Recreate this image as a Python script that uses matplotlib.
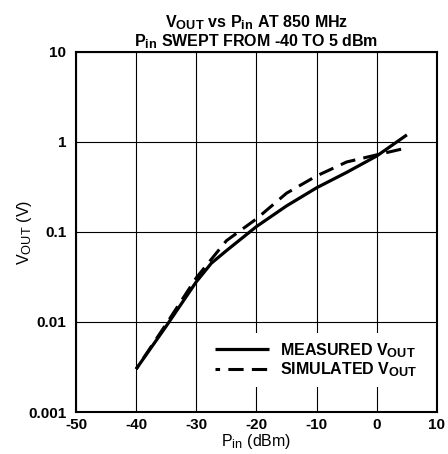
import numpy as np
import matplotlib
matplotlib.use("Agg")
import matplotlib.pyplot as plt
import matplotlib._mathtext as mt

plt.rcParams['font.family'] = ['Liberation Sans', 'DejaVu Sans']
plt.rcParams['font.weight'] = 'bold'
plt.rcParams['mathtext.default'] = 'regular'
mt.SHRINK_FACTOR = 0.8  # indices moins petits, comme sur la figure d'origine

# Donnees
pin_mes = [-40, -35, -30, -27.5, -25, -20, -15, -10, -5, 0, 5]
vout_mes = [0.003, 0.009, 0.028, 0.045, 0.062, 0.115, 0.195, 0.31, 0.46, 0.7, 1.2]
pin_sim = [-40, -35, -30, -25, -20, -15, -10, -5, 0, 5]
vout_sim = [0.003, 0.0095, 0.031, 0.08, 0.14, 0.27, 0.42, 0.6, 0.72, 0.86]

xticks = [-50, -40, -30, -20, -10, 0, 10]
yticks = [0.001, 0.01, 0.1, 1, 10]
ylabels = ["0.001", "0.01", "0.1", "1", "10"]

fig = plt.figure(figsize=(4.48, 4.54), dpi=100)
ax = fig.add_axes([0.1696, 0.0925, 0.8058, 0.793])

ax.plot(pin_mes, vout_mes, c='k', lw=2.3, label=r'MEASURED V$_{OUT}$', solid_capstyle='butt')
ax.plot(pin_sim, vout_sim, c='k', lw=2.2, ls=(3.5, (5, 2.7)), label=r'SIMULATED V$_{OUT}$')

ax.set_yscale('log')
ax.set_xlim(-50, 10)
ax.set_ylim(0.001, 10)
ax.set_xticks(xticks)
ax.set_xticklabels([str(t) for t in xticks])
ax.set_yticks(yticks)
ax.set_yticklabels(ylabels)
ax.yaxis.set_minor_locator(matplotlib.ticker.NullLocator())
ax.tick_params(length=0, labelsize=11)
ax.tick_params(axis='x', pad=4)
ax.tick_params(axis='y', pad=7)
ax.grid(True, c='k', lw=0.8)
for s in ax.spines.values():
    s.set_linewidth(1.5)

ax.set_xlabel(r'P$_{in}$ (dBm)', fontsize=11.5, labelpad=0)
ax.set_ylabel(r'V$_{OUT}$ (V)', fontsize=11.5)
ax.yaxis.set_label_coords(-0.117, 0.5)
ax.set_title('V$_{OUT}$ vs P$_{in}$ AT 850 MHz\nP$_{in}$ SWEPT FROM -40 TO 5 dBm',
             fontsize=11.5, fontweight='bold', pad=4, linespacing=1.0)

leg = ax.legend(loc='lower left', bbox_to_anchor=(0.363, 0.069), borderaxespad=0,
                fontsize=11.5, handlelength=3.4, handletextpad=0.65, labelspacing=0.05,
                frameon=True, fancybox=False, edgecolor='none', framealpha=1,
                borderpad=0.5)
leg.get_frame().set_linewidth(0)

plt.savefig("out.png", dpi=100)
